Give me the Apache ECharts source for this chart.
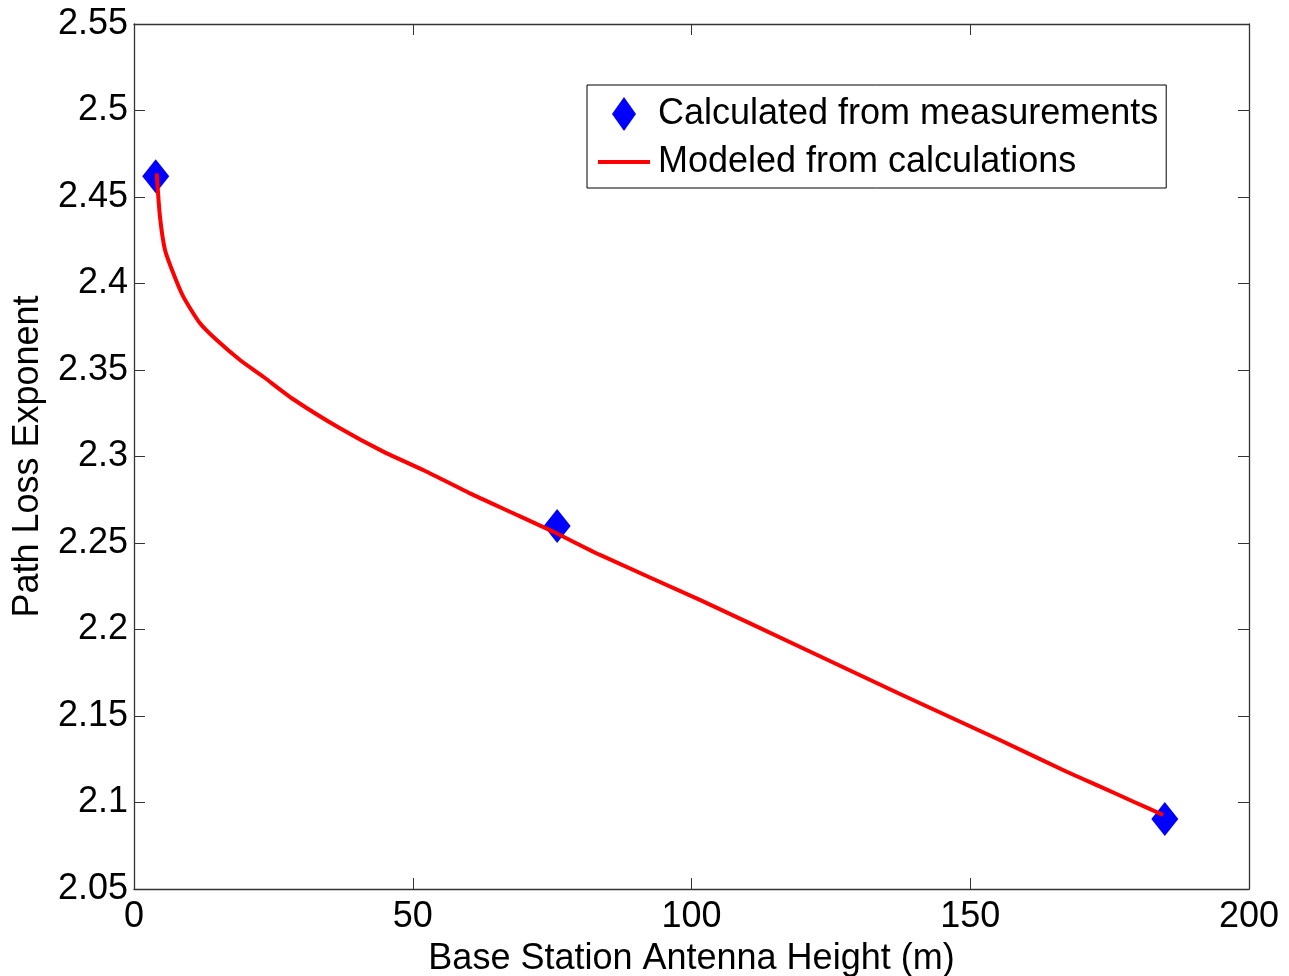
<!DOCTYPE html>
<html>
<head>
<meta charset="utf-8">
<script src="https://cdn.jsdelivr.net/npm/echarts@6/dist/echarts.min.js"></script>
<style>
  html, body { margin: 0; padding: 0; background: #fff; }
  #main { width: 1289px; height: 976px; }
</style>
</head>
<body>
<div id="main"></div>
<script>
// measured points (diamonds)
const measX = [3.9, 75.9, 184.9];
const measY = [2.462, 2.2598, 2.0905];

// modeled curve
const modelX = [4.07, 4.66, 5.56, 7.05, 8.84, 11.84, 14.83, 19.01, 23.19, 28.57, 36.95, 44.72,
  52.5, 60.27, 68.04, 75.21, 83.59, 101.5, 119.5, 137.4, 155.3, 167.3, 173.3, 179.2, 184.6];
const modelY = [2.4637, 2.4386, 2.4194, 2.4059, 2.3924, 2.377, 2.3673, 2.3558, 2.3461, 2.3331, 2.3163, 2.3028,
  2.2912, 2.2787, 2.2672, 2.2565, 2.2431, 2.2171, 2.1899, 2.1627, 2.1361, 2.1178, 2.1092, 2.1006, 2.0928];

const names = ['Calculated from measurements', 'Modeled from calculations'];

const font = "'Liberation Sans', Arial, sans-serif";
const chart = echarts.init(document.getElementById('main'));

const tick = { show: true, inside: true, length: 11, lineStyle: { color: '#333', width: 1 } };
const line = { show: true, onZero: false, lineStyle: { color: '#333', width: 1.3 } };

const option = {
  animation: false,
  textStyle: { fontFamily: font },
  grid: { left: 134, right: 40, top: 24, bottom: 87, containLabel: false, outerBoundsMode: 'none' },
  legend: {
    orient: 'vertical',
    left: 587,
    top: 85,
    padding: [11, 8, 8, 11],
    itemWidth: 52,
    itemHeight: 34,
    itemGap: 12,
    borderColor: '#000',
    borderWidth: 1,
    backgroundColor: '#fff',
    textStyle: { fontFamily: font, fontSize: 36, color: '#000', padding: [0, 0, 0, 3] },
    data: [
      { name: names[0], icon: 'path://M0,-17L12,0L0,17L-12,0Z' },
      { name: names[1], icon: 'path://M0,0L52,0L52,4L0,4Z' }
    ]
  },
  xAxis: [
    {
      type: 'value', min: 0, max: 200, interval: 50,
      name: 'Base Station Antenna Height (m)',
      nameLocation: 'middle', nameGap: 52, nameMoveOverlap: false,
      nameTextStyle: { fontFamily: font, fontSize: 36, color: '#000' },
      axisLine: line, axisTick: tick,
      axisLabel: { fontFamily: font, fontSize: 36, color: '#000', margin: 10 },
      splitLine: { show: false }
    },
    {
      type: 'value', position: 'top', min: 0, max: 200, interval: 50,
      axisLine: line, axisTick: tick, axisLabel: { show: false }, splitLine: { show: false }
    }
  ],
  yAxis: [
    {
      type: 'value', min: 2.05, max: 2.55, interval: 0.05,
      name: 'Path Loss Exponent',
      nameLocation: 'middle', nameGap: 88, nameMoveOverlap: false,
      nameTextStyle: { fontFamily: font, fontSize: 36, color: '#000' },
      axisLine: line, axisTick: tick,
      axisLabel: {
        fontFamily: font, fontSize: 36, color: '#000', margin: 6,
        formatter: v => String(+v.toFixed(2))
      },
      splitLine: { show: false }
    },
    {
      type: 'value', position: 'right', min: 2.05, max: 2.55, interval: 0.05,
      axisLine: line, axisTick: tick, axisLabel: { show: false }, splitLine: { show: false }
    }
  ],
  series: [
    {
      name: names[0],
      type: 'scatter',
      symbol: 'diamond',
      symbolSize: [27, 34],
      itemStyle: { color: '#0000ff', opacity: 1 },
      data: measX.map((x, i) => [x, measY[i]]),
      z: 2
    },
    {
      name: names[1],
      type: 'line',
      symbol: 'none',
      showSymbol: false,
      smooth: 0.2,
      lineStyle: { color: '#ff0000', width: 4 },
      itemStyle: { color: '#ff0000' },
      data: modelX.map((x, i) => [x, modelY[i]]),
      z: 3
    }
  ]
};

chart.setOption(option);
window.addEventListener('resize', () => chart.resize());
</script>
</body>
</html>
